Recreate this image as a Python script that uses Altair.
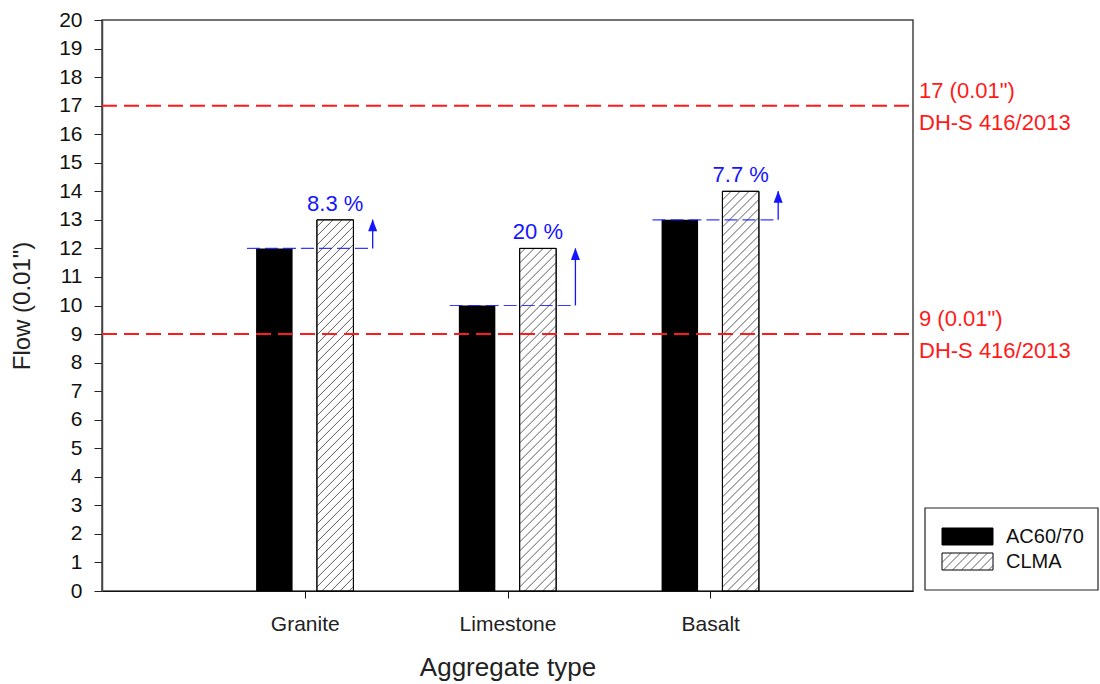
import altair as alt
import pandas as pd

# ---- data -------------------------------------------------------------
categories = ["Granite", "Limestone", "Basalt"]
ac6070 = [12, 10, 13]          # flow, AC60/70 mixes (0.01")
clma = [13, 12, 14]            # flow, CLMA mixes (0.01")
increase_labels = ["8.3 %", "20 %", "7.7 %"]
series_names = ["AC60/70", "CLMA"]
spec_limits = [17, 9]
spec_labels = ['17 (0.01")', '9 (0.01")']
spec_source = "DH-S 416/2013"

# ---- layout -----------------------------------------------------------
W, H = 811, 571
X_MAX, Y_MAX = 4, 20
PX_X = W / X_MAX
PX_Y = H / Y_MAX
OFFSET = 0.15      # bar centre offset from category position
HALF = 0.09        # half bar width
FONT = "Liberation Sans"
BLUE = "#1515ff"
RED = "#ff1a1a"
HATCH_STEP = 9     # px between hatch lines (measured horizontally)

pos = [i + 1 for i in range(len(categories))]


def px_to_x(px):
    return px / PX_X


def px_to_y(py):
    return (H - py) / PX_Y


ac_df = pd.DataFrame({
    "cat": categories,
    "xl": [p - OFFSET - HALF for p in pos],
    "xr": [p - OFFSET + HALF for p in pos],
    "value": ac6070,
    "base": 0,
})
cl_df = pd.DataFrame({
    "cat": categories,
    "xl": [p + OFFSET - HALF for p in pos],
    "xr": [p + OFFSET + HALF for p in pos],
    "value": clma,
    "base": 0,
})


def hatch(x0, x1, y0, y1):
    """45-degree hatch segments inside a rectangle given in data units."""
    w = (x1 - x0) * PX_X
    h = (y1 - y0) * PX_Y
    segs = []
    k = -w + HATCH_STEP / 2
    while k < h:
        xs, xe = max(0.0, -k), min(w, h - k)
        if xe > xs:
            segs.append({"hx": x0 + xs / PX_X, "hy": y0 + (xs + k) / PX_Y,
                         "hx2": x0 + xe / PX_X, "hy2": y0 + (xe + k) / PX_Y})
        k += HATCH_STEP
    return segs


ann_df = pd.DataFrame({
    "x_start": [p - OFFSET - HALF - 0.045 for p in pos],
    "x_arrow": [p + OFFSET + HALF + 0.095 for p in pos],
    "x_label": [p + OFFSET for p in pos],
    "y_from": ac6070,
    "y_to": clma,
    "label": increase_labels,
})

spec_df = pd.DataFrame({"limit": spec_limits, "label": spec_labels,
                        "source": spec_source})

# ---- legend geometry (pixels relative to the plot, converted to data) --
LX0, LX1, LY0, LY1 = W + 12, W + 185, 488, 570
SW_X0, SW_X1 = W + 29, W + 80
sw_rows = [(508, 525), (533, 550)]

legend_sw = pd.DataFrame({
    "series": series_names,
    "x0": px_to_x(SW_X0), "x1": px_to_x(SW_X1),
    "y0": [px_to_y(r[1]) for r in sw_rows],
    "y1": [px_to_y(r[0]) for r in sw_rows],
    "ty": [px_to_y((r[0] + r[1]) / 2) for r in sw_rows],
    "tx": px_to_x(SW_X1 + 13),
    "fill": ["black", "white"],
})
legend_box_df = pd.DataFrame({"x0": [px_to_x(LX0)], "x1": [px_to_x(LX1)],
                              "y0": [px_to_y(LY1)], "y1": [px_to_y(LY0)]})

hatch_rows = [s for _, r in cl_df.iterrows()
              for s in hatch(r.xl, r.xr, r.base, r.value)]
hatch_rows += hatch(px_to_x(SW_X0), px_to_x(SW_X1),
                    px_to_y(sw_rows[1][1]), px_to_y(sw_rows[1][0]))
hatch_df = pd.DataFrame(hatch_rows)

xscale = alt.Scale(domain=[0, X_MAX], nice=False, zero=False)
yscale = alt.Scale(domain=[0, Y_MAX], nice=False)

label_expr = "[''," + ",".join(f"'{c}'" for c in categories) + "][datum.value]"

x_axis = alt.Axis(values=pos, labelExpr=label_expr, title="Aggregate type",
                  grid=False, tickSize=7, labelPadding=15, titlePadding=20,
                  labelFontSize=21, titleFontSize=26, titleFontWeight="normal",
                  domainColor="#111", tickColor="#111", labelColor="#222",
                  titleColor="#222", labelFont=FONT, titleFont=FONT)
y_axis = alt.Axis(values=list(range(Y_MAX + 1)), title='Flow (0.01")',
                  grid=False, tickSize=8, labelPadding=12, titlePadding=24,
                  labelFontSize=21, titleFontSize=24, titleFontWeight="normal",
                  domainColor="#444", domainWidth=1.5, tickColor="#222",
                  labelColor="#111", titleColor="#222", labelFont=FONT,
                  titleFont=FONT)


def X(field):
    return alt.X(field, scale=xscale, axis=x_axis)


def Y(field):
    return alt.Y(field, scale=yscale, axis=y_axis)


# ---- bars -------------------------------------------------------------
ac_bars = alt.Chart(ac_df).mark_rect(color="black").encode(
    x=X("xl:Q"), x2="xr:Q", y=Y("value:Q"), y2="base:Q",
)

cl_bars = alt.Chart(cl_df).mark_rect(fill="white", stroke="black",
                                     strokeWidth=1).encode(
    x=X("xl:Q"), x2="xr:Q", y=Y("value:Q"), y2="base:Q",
)

# ---- specification limits --------------------------------------------
spec_lines = alt.Chart(spec_df).mark_rule(color=RED, strokeWidth=2,
                                          strokeDash=[15, 7]).encode(
    x=alt.value(0), x2=alt.value(W), y=Y("limit:Q"),
)
spec_text1 = alt.Chart(spec_df).mark_text(
    color=RED, font=FONT, fontSize=22, align="left", baseline="alphabetic",
    dy=-8).encode(
    x=alt.value(W + 6), y=Y("limit:Q"), text="label:N",
)
spec_text2 = alt.Chart(spec_df).mark_text(
    color=RED, font=FONT, fontSize=22, align="left", baseline="alphabetic",
    dy=24).encode(
    x=alt.value(W + 6), y=Y("limit:Q"), text="source:N",
)

# ---- increase annotations --------------------------------------------
inc_line = alt.Chart(ann_df).mark_rule(color=BLUE, strokeWidth=1.2,
                                       strokeDash=[13, 5], opacity=0.85).encode(
    x=X("x_start:Q"), x2="x_arrow:Q", y=Y("y_from:Q"),
)
inc_arrow = alt.Chart(ann_df).mark_rule(color=BLUE, strokeWidth=1.3).encode(
    x=X("x_arrow:Q"), y=Y("y_from:Q"), y2="y_to:Q",
)
inc_head = alt.Chart(ann_df).mark_point(
    shape="M0,-1L0.6,0.6L-0.6,0.6Z", size=225, filled=True, color=BLUE,
    opacity=1, yOffset=7).encode(
    x=X("x_arrow:Q"), y=Y("y_to:Q"),
)
inc_text = alt.Chart(ann_df).mark_text(
    color=BLUE, font=FONT, fontSize=22, align="center", baseline="alphabetic",
    dy=-9).encode(
    x=X("x_label:Q"), y=Y("y_to:Q"), text="label:N",
)

# ---- legend -----------------------------------------------------------
legend_box = alt.Chart(legend_box_df).mark_rect(
    fill="white", stroke="#222", strokeWidth=1.2).encode(
    x=X("x0:Q"), x2="x1:Q", y=Y("y0:Q"), y2="y1:Q",
)
legend_rects = alt.Chart(legend_sw).mark_rect(stroke="black",
                                              strokeWidth=1).encode(
    x=X("x0:Q"), x2="x1:Q", y=Y("y0:Q"), y2="y1:Q",
    fill=alt.Fill("fill:N", scale=None),
)
legend_text = alt.Chart(legend_sw).mark_text(
    font=FONT, fontSize=20, align="left", baseline="middle",
    color="#111").encode(
    x=X("tx:Q"), y=Y("ty:Q"), text="series:N",
)

# ---- hatching (CLMA bars and legend swatch) --------------------------
hatching = alt.Chart(hatch_df).mark_rule(color="#333", strokeWidth=0.8).encode(
    x=X("hx:Q"), x2="hx2:Q", y=Y("hy:Q"), y2="hy2:Q",
)

cl_outline = alt.Chart(cl_df).mark_rect(fill=None, stroke="black",
                                        strokeWidth=1).encode(
    x=X("xl:Q"), x2="xr:Q", y=Y("value:Q"), y2="base:Q",
)

chart = alt.layer(
    ac_bars, cl_bars, legend_box, legend_rects, legend_text,
    hatching, cl_outline,
    spec_lines, spec_text1, spec_text2,
    inc_line, inc_arrow, inc_head, inc_text,
).properties(
    width=W, height=H,
    padding={"left": 102, "top": 20, "right": 187, "bottom": 93},
    autosize=alt.AutoSizeParams(type="none"),
    background="white",
).configure_view(
    stroke="#444", strokeWidth=1.5,
)

chart.save("out.html", embed_options={"renderer": "svg", "actions": False})
